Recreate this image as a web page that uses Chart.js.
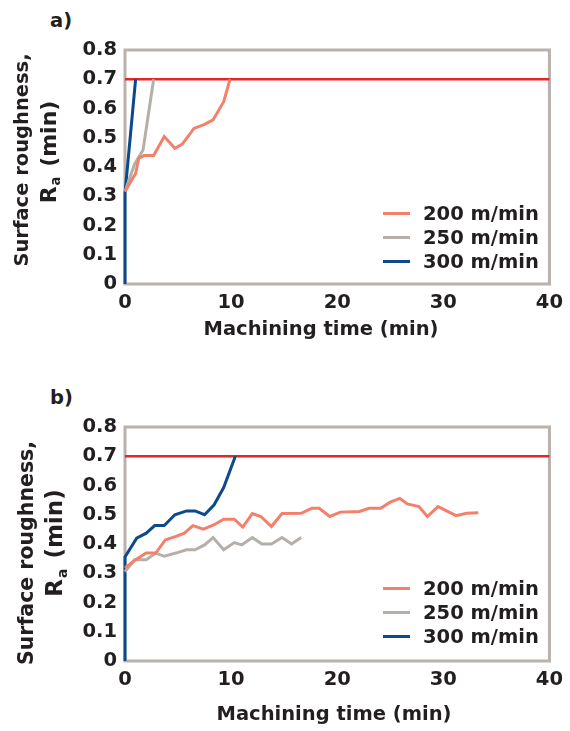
<!DOCTYPE html>
<html>
<head>
<meta charset="utf-8">
<script src="https://cdn.jsdelivr.net/npm/chart.js@4.4.0/dist/chart.umd.min.js"></script>
<style>
body { margin: 0; background: #fff; width: 570px; height: 731px; position: relative; overflow: hidden; font-family: "DejaVu Sans", sans-serif; color: #231f20; }
.painel { position: absolute; left: 0; width: 570px; height: 354px; }
.letra { position: absolute; left: 50px; font-weight: 700; font-size: 19.5px; }
.legenda { position: absolute; left: 383px; font-weight: 700; font-size: 19.5px; }
.legenda div { display: flex; align-items: center; height: 24px; }
.legenda .linha { width: 27px; height: 3px; margin-right: 13px; }
</style>
</head>
<body>

<div class="letra" style="top:9px">a)</div>
<div class="painel" style="top:0"><canvas id="graficoA" width="570" height="354"></canvas></div>
<div class="legenda" id="legendaA" style="top:201px"></div>

<div class="letra" style="top:386px">b)</div>
<div class="painel" style="top:377px"><canvas id="graficoB" width="570" height="354"></canvas></div>
<div class="legenda" id="legendaB" style="top:576px;"></div>

<script>
// eixos
const ticksX = [0, 10, 20, 30, 40]
const ticksY = [0, 0.1, 0.2, 0.3, 0.4, 0.5, 0.6, 0.7, 0.8]
const rotulosY = ['0', '0.1', '0.2', '0.3', '0.4', '0.5', '0.6', '0.7', '0.8']
const nomesSeries = ['200 m/min', '250 m/min', '300 m/min']

// limite (linha vermelha)
const tempoLimite = [0, 40]
const raLimite = [0.7, 0.7]

// painel a)
const tempoA200 = [0, 1.0, 1.3, 1.8, 2.7, 3.7, 4.7, 5.4, 6.5, 7.5, 8.3, 9.3, 9.9]
const raA200 = [0.316, 0.378, 0.43, 0.439, 0.439, 0.504, 0.464, 0.478, 0.532, 0.546, 0.561, 0.623, 0.70]
const tempoA250 = [0, 0.9, 1.7, 2.7]
const raA250 = [0.316, 0.41, 0.458, 0.70]
const tempoA300 = [0, 0, 1.0]
const raA300 = [0, 0.31, 0.70]

// painel b)
const tempoB200 = [0, 1.0, 2.0, 2.9, 3.8, 4.8, 5.6, 6.4, 7.4, 8.4, 9.3, 10.3, 11.1, 12.0, 12.8, 13.8, 14.8, 16.6, 17.6, 18.3, 19.3, 20.3, 22.1, 23.0, 24.1, 25.0, 25.9, 26.6, 27.7, 28.5, 29.5, 31.2, 32.2, 33.3]
const raB200 = [0.318, 0.346, 0.369, 0.369, 0.414, 0.426, 0.437, 0.463, 0.451, 0.466, 0.485, 0.485, 0.458, 0.504, 0.494, 0.46, 0.504, 0.505, 0.522, 0.522, 0.494, 0.509, 0.511, 0.522, 0.522, 0.543, 0.556, 0.537, 0.528, 0.494, 0.528, 0.497, 0.505, 0.507]
const tempoB250 = [0, 0.9, 2.0, 2.9, 3.7, 4.8, 5.8, 6.6, 7.5, 8.3, 9.3, 10.3, 11.0, 12.0, 12.9, 13.8, 14.8, 15.7, 16.6]
const raB250 = [0.305, 0.346, 0.346, 0.369, 0.358, 0.369, 0.38, 0.38, 0.397, 0.422, 0.38, 0.405, 0.397, 0.422, 0.40, 0.40, 0.422, 0.40, 0.422]
const tempoB300 = [0, 0, 1.1, 2.0, 2.8, 3.7, 4.7, 5.8, 6.6, 7.5, 8.4, 9.3, 10.4]
const raB300 = [0, 0.356, 0.42, 0.437, 0.463, 0.463, 0.50, 0.513, 0.513, 0.50, 0.534, 0.593, 0.70]

const corTexto = '#231f20'
const corBorda = '#b9b1ab'
const coresSeries = ['#f4806c', '#b5afa9', '#0c4a8b']
const corLimite = '#e8232b'
const fonte = '"DejaVu Sans"'
const tamanho = 19.5

function pontos(tempos, valores) {
    return tempos.map((t, i) => ({ x: t, y: valores[i] }))
}

// borda cinza em volta da area do grafico
const bordaArea = {
    id: 'bordaArea',
    beforeDatasetsDraw(chart) {
        const { ctx, chartArea } = chart
        ctx.save()
        ctx.strokeStyle = corBorda
        ctx.lineWidth = 3
        ctx.strokeRect(chartArea.left, chartArea.top, chartArea.right - chartArea.left, chartArea.bottom - chartArea.top)
        ctx.restore()
    }
}

// titulos dos eixos (o do y tem o "a" subscrito)
const titulosEixos = {
    id: 'titulosEixos',
    afterDraw(chart, args, op) {
        const ctx = chart.ctx
        const area = chart.chartArea
        ctx.save()
        ctx.fillStyle = corTexto
        ctx.textBaseline = 'middle'
        ctx.font = `700 ${tamanho}px ${fonte}`
        ctx.textAlign = 'center'
        ctx.fillText('Machining time (min)', op.centroX, area.bottom + op.distanciaX)
        ctx.restore()

        // linha 1
        ctx.save()
        ctx.fillStyle = corTexto
        ctx.textBaseline = 'middle'
        ctx.translate(op.x1, op.y1)
        ctx.rotate(-Math.PI / 2)
        ctx.font = `700 ${op.tam1}px ${fonte}`
        ctx.textAlign = 'center'
        ctx.fillText('Surface roughness,', 0, 0)
        ctx.restore()

        // linha 2: R com "a" subscrito
        const tamSub = op.tam2 * 0.6
        const folga = 3
        ctx.save()
        ctx.fillStyle = corTexto
        ctx.textBaseline = 'middle'
        ctx.textAlign = 'left'
        ctx.translate(op.x2, op.y2)
        ctx.rotate(-Math.PI / 2)
        ctx.font = `700 ${op.tam2}px ${fonte}`
        const wR = ctx.measureText('R').width
        const wMin = ctx.measureText(' (min)').width
        ctx.font = `700 ${tamSub}px ${fonte}`
        const wA = ctx.measureText('a').width + folga
        const inicio = -(wR + wA + wMin) / 2
        ctx.font = `700 ${op.tam2}px ${fonte}`
        ctx.fillText('R', inicio, 0)
        ctx.fillText(' (min)', inicio + wR + wA, 0)
        ctx.font = `700 ${tamSub}px ${fonte}`
        ctx.fillText('a', inicio + wR + 1, op.tam2 * 0.32)
        ctx.restore()
    }
}

function criarGrafico(idCanvas, idLegenda, series, posTitulos) {
    const datasets = series.map((s, i) => ({
        label: nomesSeries[i],
        data: pontos(s[0], s[1]),
        borderColor: coresSeries[i],
        backgroundColor: coresSeries[i],
        borderWidth: 3,
        pointRadius: 0,
        tension: 0,
        clip: false
    }))
    datasets.push({
        label: 'limite',
        data: pontos(tempoLimite, raLimite),
        borderColor: corLimite,
        borderWidth: 2.5,
        pointRadius: 0,
        clip: false
    })

    new Chart(document.getElementById(idCanvas), {
        type: 'line',
        data: { datasets: datasets },
        options: {
            responsive: false,
            animation: false,
            layout: { padding: { left: 70, right: 17, top: 50, bottom: 0 } },
            plugins: {
                legend: { display: false },
                tooltip: { enabled: false },
                titulosEixos: posTitulos
            },
            scales: {
                x: {
                    type: 'linear',
                    min: 0,
                    max: 40,
                    afterBuildTicks: s => { s.ticks = ticksX.map(v => ({ value: v })) },
                    afterFit: s => { s.height = 70 },
                    grid: { display: false, drawTicks: false },
                    border: { display: false },
                    ticks: {
                        color: corTexto,
                        padding: 7,
                        maxRotation: 0,
                        font: { family: fonte, size: tamanho, weight: '700' }
                    }
                },
                y: {
                    min: 0,
                    max: 0.8,
                    afterBuildTicks: s => { s.ticks = ticksY.map(v => ({ value: v })) },
                    afterFit: s => { s.width = 55 },
                    grid: { display: false, drawTicks: false },
                    border: { display: false },
                    ticks: {
                        color: corTexto,
                        padding: 8,
                        callback: valor => rotulosY[ticksY.indexOf(valor)],
                        font: { family: fonte, size: tamanho, weight: '700' }
                    }
                }
            }
        },
        plugins: [bordaArea, titulosEixos]
    })

    const legenda = document.getElementById(idLegenda)
    nomesSeries.forEach((nome, i) => {
        legenda.innerHTML += `<div><span class="linha" style="background:${coresSeries[i]}"></span>${nome}</div>`
    })
}

criarGrafico('graficoA', 'legendaA', [[tempoA200, raA200], [tempoA250, raA250], [tempoA300, raA300]],
    { centroX: 321, distanciaX: 46, x1: 23, y1: 160, tam1: 19.5, x2: 50, y2: 152, tam2: 22 })
criarGrafico('graficoB', 'legendaB', [[tempoB200, raB200], [tempoB250, raB250], [tempoB300, raB300]],
    { centroX: 334, distanciaX: 54, x1: 28, y1: 176, tam1: 20.5, x2: 56, y2: 166, tam2: 23 })
</script>
</body>
</html>
